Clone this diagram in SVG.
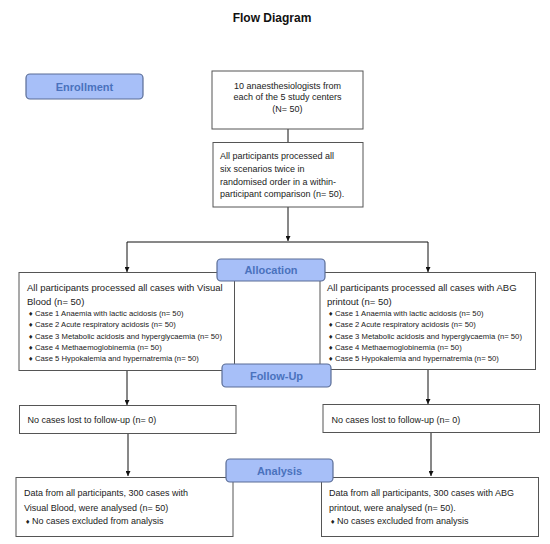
<svg xmlns="http://www.w3.org/2000/svg" width="550" height="544" viewBox="0 0 550 544">
<defs>
<marker id="arr" viewBox="0 0 10 10" refX="10" refY="5" markerWidth="5" markerHeight="5" orient="auto" markerUnits="userSpaceOnUse">
<path d="M0,0 L10,5 L0,10 z" fill="#111"/>
</marker>
<style>
.box{fill:#fff;stroke:#555;stroke-width:1}
.lbl{fill:#a7bff8;stroke:#5a6d96;stroke-width:1.2}
.lt{font-family:"Liberation Sans",Arial,sans-serif;font-weight:bold;font-size:11px;fill:#4a72bd;text-anchor:middle}
.t9{font-family:"Liberation Sans",Arial,sans-serif;font-size:9px;fill:#222}
.t10{font-family:"Liberation Sans",Arial,sans-serif;font-size:9.5px;fill:#222}
.t8{font-family:"Liberation Sans",Arial,sans-serif;font-size:7.7px;fill:#222}
.b{font-family:"DejaVu Sans",sans-serif;font-size:6px;fill:#222}
.con{fill:none;stroke:#111;stroke-width:1}
</style>
</defs>
<rect width="550" height="544" fill="#fff"/>
<text x="272" y="22" font-family="Liberation Sans,Arial,sans-serif" font-weight="bold" font-size="12" text-anchor="middle" fill="#111">Flow Diagram</text>

<g id="connectors">
<path class="con" d="M288,129 V142"/>
<path class="con" d="M288,207 V241" marker-end="url(#arr)"/>
<path class="con" d="M127,242 H428"/>
<path class="con" d="M127,242 V272" marker-end="url(#arr)"/>
<path class="con" d="M428,242 V272" marker-end="url(#arr)"/>
<path class="con" d="M127,370 V405" marker-end="url(#arr)"/>
<path class="con" d="M428,369 V404" marker-end="url(#arr)"/>
<path class="con" d="M128,433 V476" marker-end="url(#arr)"/>
<path class="con" d="M431,432 V476" marker-end="url(#arr)"/>
</g>

<g id="enrollment">
<rect class="lbl" x="26" y="74" width="117" height="25" rx="4"/>
<text class="lt" x="84.5" y="91" font-size="11.5">Enrollment</text>
</g>

<g id="box1">
<rect class="box" x="212" y="71" width="151" height="58"/>
<text class="t9" x="287.5" y="88.5" text-anchor="middle">10 anaesthesiologists from</text>
<text class="t9" x="287.5" y="100" text-anchor="middle">each of the 5 study centers</text>
<text class="t9" x="287.5" y="112" text-anchor="middle">(N= 50)</text>
</g>

<g id="box2">
<rect class="box" x="213" y="142.5" width="150" height="64.5"/>
<text class="t9" x="220" y="159">All participants processed all</text>
<text class="t9" x="220" y="172">six scenarios twice in</text>
<text class="t9" x="220" y="184.5">randomised order in a within-</text>
<text class="t9" x="220" y="197">participant comparison (n= 50).</text>
</g>

<g id="left-alloc">
<rect class="box" x="19" y="272.5" width="215.5" height="98"/>
<text class="t10" x="27" y="291">All participants processed all cases with Visual</text>
<text class="t10" x="27" y="305">Blood (n= 50)</text>
<text class="b" x="28" y="315.5">♦</text><text class="t8" x="35" y="315.5">Case 1 Anaemia with lactic acidosis (n= 50)</text>
<text class="b" x="28" y="327">♦</text><text class="t8" x="35" y="327">Case 2 Acute respiratory acidosis (n= 50)</text>
<text class="b" x="28" y="338.5">♦</text><text class="t8" x="35" y="338.5">Case 3 Metabolic acidosis and hyperglycaemia (n= 50)</text>
<text class="b" x="28" y="349.7">♦</text><text class="t8" x="35" y="349.7">Case 4 Methaemoglobinemia (n= 50)</text>
<text class="b" x="28" y="361">♦</text><text class="t8" x="35" y="361">Case 5 Hypokalemia and hypernatremia (n= 50)</text>
</g>

<g id="right-alloc">
<rect class="box" x="320" y="272.5" width="215.5" height="97"/>
<text class="t10" x="327" y="291">All participants processed all cases with ABG</text>
<text class="t10" x="327" y="305">printout (n= 50)</text>
<text class="b" x="328" y="315.5">♦</text><text class="t8" x="335" y="315.5">Case 1 Anaemia with lactic acidosis (n= 50)</text>
<text class="b" x="328" y="327">♦</text><text class="t8" x="335" y="327">Case 2 Acute respiratory acidosis (n= 50)</text>
<text class="b" x="328" y="338.5">♦</text><text class="t8" x="335" y="338.5">Case 3 Metabolic acidosis and hyperglycaemia (n= 50)</text>
<text class="b" x="328" y="349.7">♦</text><text class="t8" x="335" y="349.7">Case 4 Methaemoglobinemia (n= 50)</text>
<text class="b" x="328" y="361">♦</text><text class="t8" x="335" y="361">Case 5 Hypokalemia and hypernatremia (n= 50)</text>
</g>

<g id="allocation">
<rect class="lbl" x="217" y="259" width="108" height="22" rx="4"/>
<text class="lt" x="271" y="274">Allocation</text>
</g>

<g id="followup">
<rect class="lbl" x="222" y="364" width="109" height="23" rx="4"/>
<text class="lt" x="276.5" y="379.5">Follow-Up</text>
</g>

<g id="left-lost">
<rect class="box" x="19.5" y="405.5" width="216.5" height="28"/>
<text class="t9" x="27.5" y="423">No cases lost to follow-up (n= 0)</text>
</g>

<g id="right-lost">
<rect class="box" x="323" y="404.5" width="216.5" height="28"/>
<text class="t9" x="331.5" y="422.5">No cases lost to follow-up (n= 0)</text>
</g>

<g id="left-data">
<rect class="box" x="16" y="477.5" width="217" height="59"/>
<text class="t9" x="24" y="496">Data from all participants, 300 cases with</text>
<text class="t9" x="24" y="510.5">Visual Blood, were analysed (n= 50)</text>
<text class="b" x="25" y="524">♦</text><text class="t9" x="32" y="524">No cases excluded from analysis</text>
</g>

<g id="right-data">
<rect class="box" x="321.5" y="477.5" width="217" height="59"/>
<text class="t9" x="329" y="496">Data from all participants, 300 cases with ABG</text>
<text class="t9" x="329" y="510.5">printout, were analysed (n= 50).</text>
<text class="b" x="330" y="524">♦</text><text class="t9" x="337" y="524">No cases excluded from analysis</text>
</g>

<g id="analysis">
<rect class="lbl" x="226" y="459" width="107" height="23" rx="4"/>
<text class="lt" x="279.5" y="474.5">Analysis</text>
</g>
</svg>
